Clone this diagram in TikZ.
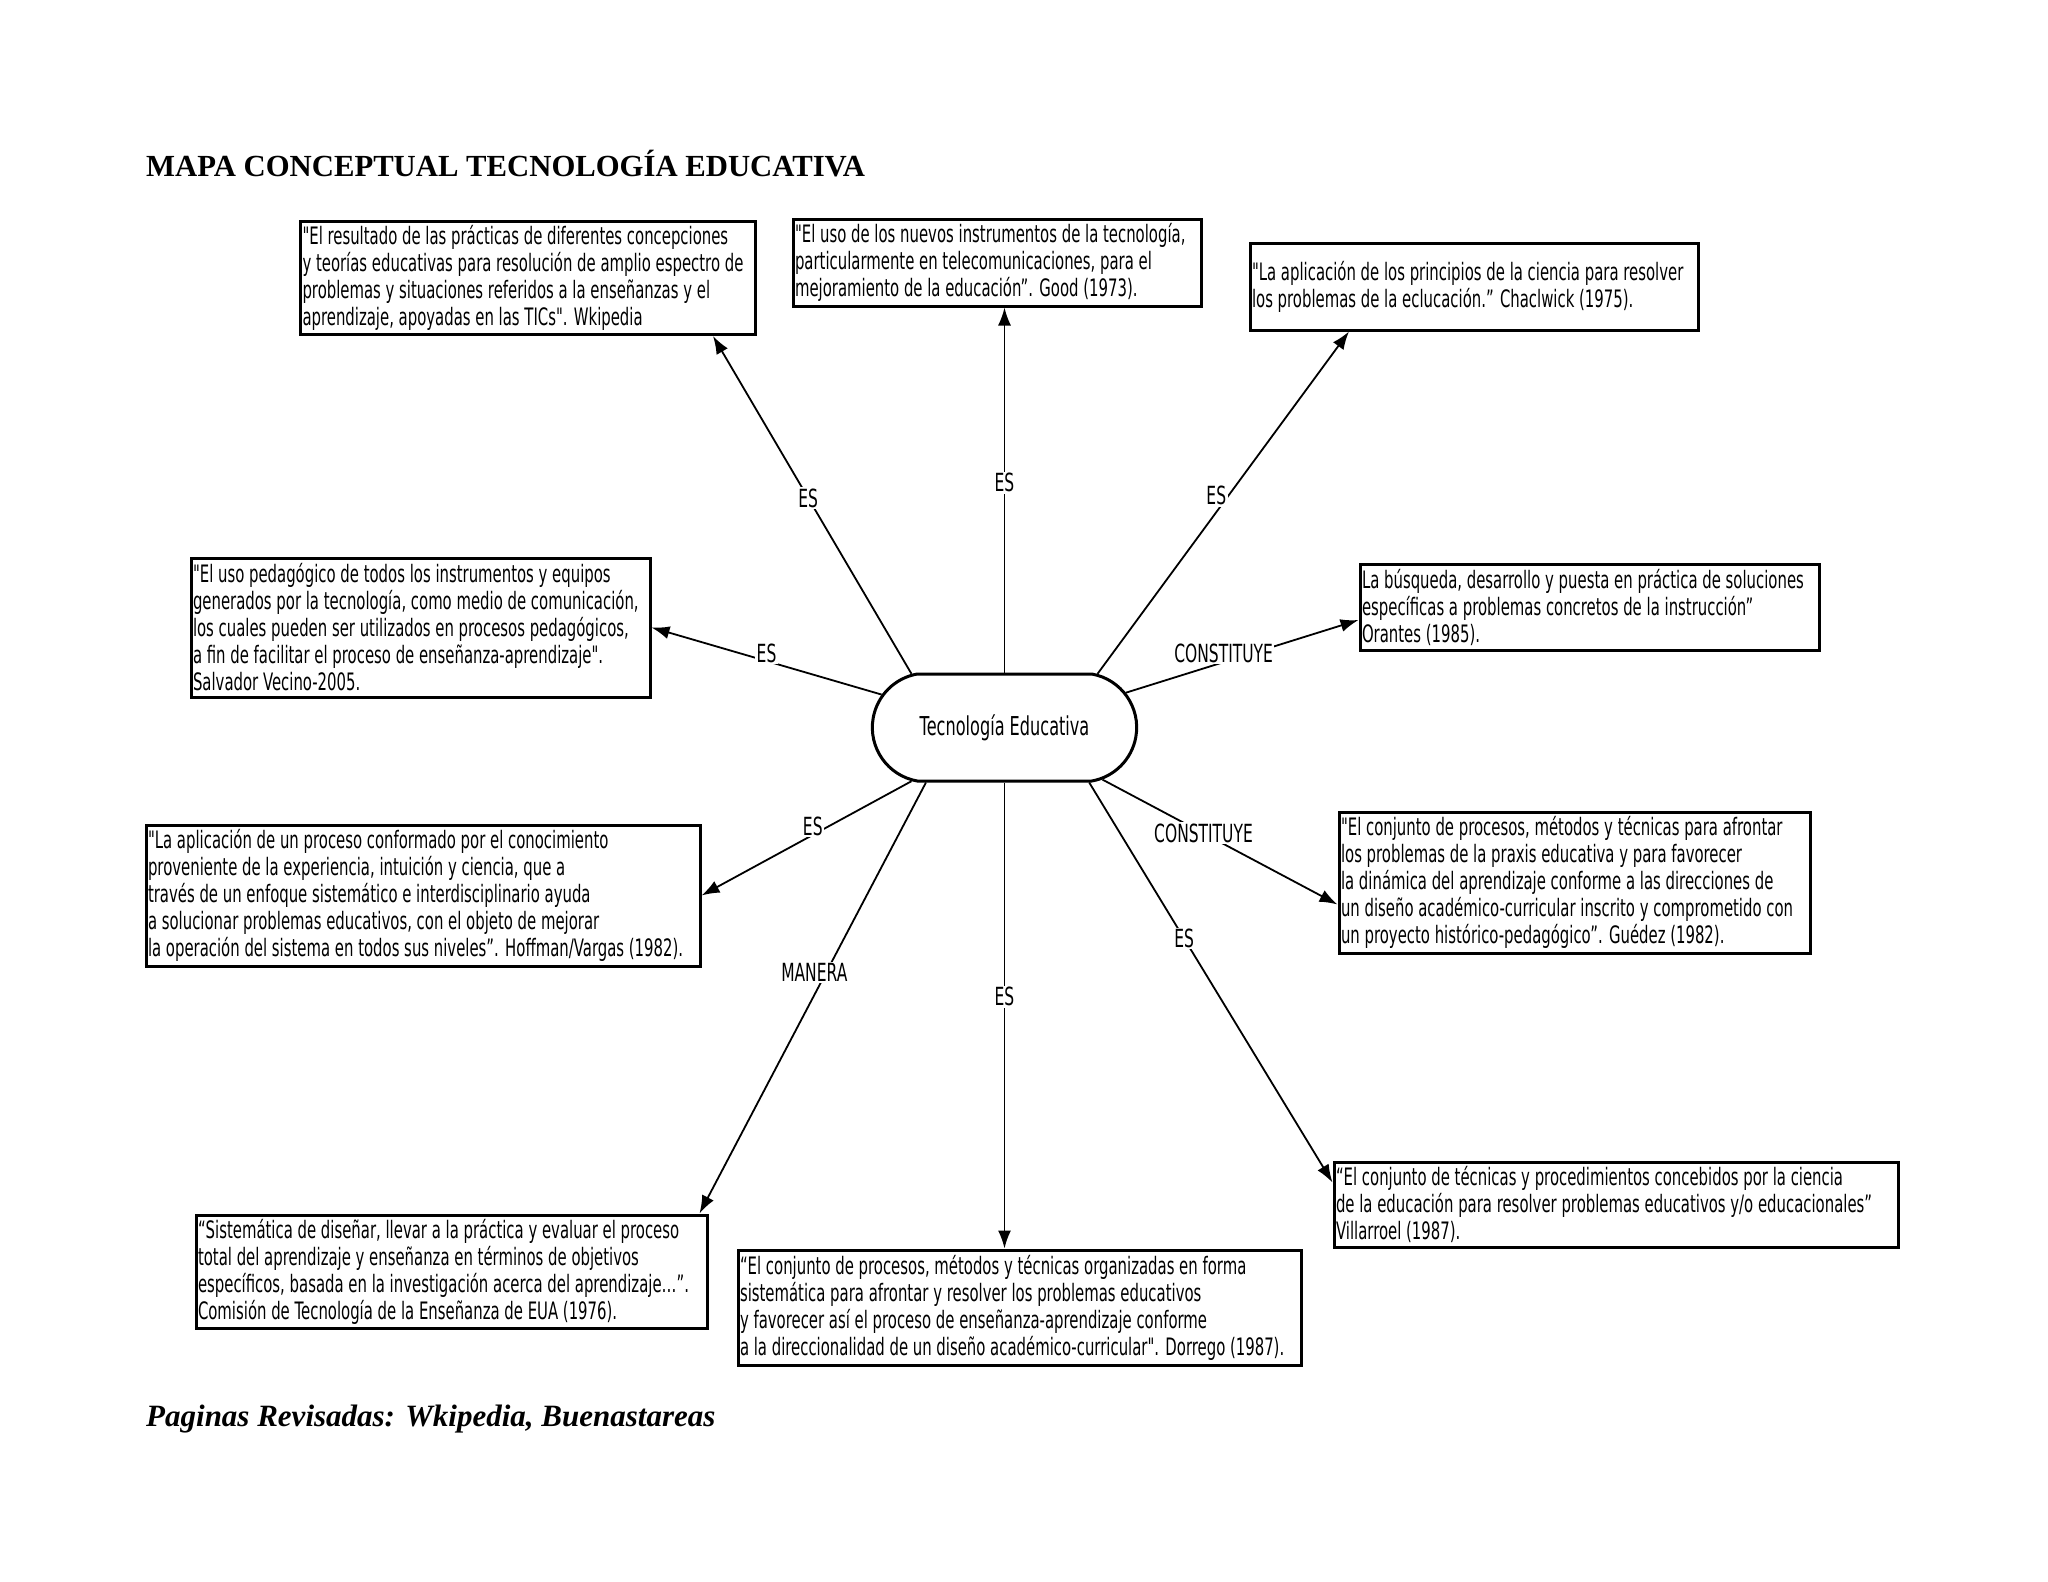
\documentclass[tikz,border=0pt]{standalone}
\usepackage{fontspec}
\setmainfont{Liberation Serif}
\newfontfamily\boxfont[FakeStretch=0.62]{DejaVu Sans}
\usetikzlibrary{shapes.misc,arrows.meta,positioning}

\begin{document}
\begin{tikzpicture}[
  x=1pt, y=-1pt,
  q/.style={draw,line width=3pt,align=flush left,inner xsep=2pt,inner ysep=0pt,
            font=\boxfont\fontsize{24}{27}\selectfont,
            execute at begin node={\hyphenpenalty=10000\exhyphenpenalty=10000}},
  hub/.style={draw,line width=3pt,rounded rectangle,
            rounded rectangle arc length=160,minimum width=271pt,
            minimum height=107pt,font=\boxfont\fontsize{26}{30}\selectfont},
  fl/.style={-{Latex[length=18pt,width=13pt]},line width=1.8pt},
  lb/.style={fill=white,inner sep=1.5pt,
            font=\boxfont\fontsize{25}{28}\selectfont},
  ]
  \useasboundingbox (0,0) rectangle (2048,1582);

  \node[anchor=base west,inner sep=0,font=\bfseries\fontsize{30.7}{36}\selectfont]
    (title) at (146,176) {MAPA CONCEPTUAL TECNOLOGÍA EDUCATIVA};

  \node[hub] (c) at (1004.5,727.5) {Tecnología Educativa};

  \node[q,text width=451pt,minimum height=113pt] (tl) at (528,278)
    {"El resultado de las prácticas de diferentes concepciones\\
     y teorías educativas para resolución de amplio espectro de\\
     problemas y situaciones referidos a la enseñanzas y el\\
     aprendizaje, apoyadas en las TICs". Wkipedia};
  \node[q,text width=404pt,minimum height=87pt] (tc) at (997,262.5)
    {"El uso de los nuevos instrumentos de la tecnología,\\
     particularmente en telecomunicaciones, para el\\
     mejoramiento de la educación”. Good (1973).};
  \node[q,text width=444pt,minimum height=87pt] (tr) at (1474,286.5)
    {"La aplicación de los principios de la ciencia para resolver\\
     los problemas de la eclucación.” Chaclwick (1975).};
  \node[q,text width=455pt,minimum height=139pt] (ml) at (420.5,627.5)
    {"El uso pedagógico de todos los instrumentos y equipos\\
     generados por la tecnología, como medio de comunicación,\\
     los cuales pueden ser utilizados en procesos pedagógicos,\\
     a fin de facilitar el proceso de enseñanza-aprendizaje".\\
     Salvador Vecino-2005.};
  \node[q,text width=455pt,minimum height=86pt] (mr) at (1589.5,607)
    {La búsqueda, desarrollo y puesta en práctica de soluciones\\
     específicas a problemas concretos de la instrucción”\\
     Orantes (1985).};
  \node[q,text width=550pt,minimum height=141pt] (ll) at (423,895.5)
    {"La aplicación de un proceso conformado por el conocimiento\\
     proveniente de la experiencia, intuición y ciencia, que a\\
     través de un enfoque sistemático e interdisciplinario ayuda\\
     a solucionar problemas educativos, con el objeto de mejorar\\
     la operación del sistema en todos sus niveles”. Hoffman/Vargas (1982).};
  \node[q,text width=467pt,minimum height=141pt] (lr) at (1574.5,882.5)
    {"El conjunto de procesos, métodos y técnicas para afrontar\\
     los problemas de la praxis educativa y para favorecer\\
     la dinámica del aprendizaje conforme a las direcciones de\\
     un diseño académico-curricular inscrito y comprometido con\\
     un proyecto histórico-pedagógico”. Guédez (1982).};
  \node[q,text width=507pt,minimum height=113pt] (bl) at (451.5,1271.5)
    {“Sistemática de diseñar, llevar a la práctica y evaluar el proceso\\
     total del aprendizaje y enseñanza en términos de objetivos\\
     específicos, basada en la investigación acerca del aprendizaje…”.\\
     Comisión de Tecnología de la Enseñanza de EUA (1976).};
  \node[q,text width=559pt,minimum height=115pt] (bc) at (1019.5,1307.5)
    {“El conjunto de procesos, métodos y técnicas organizadas en forma\\
     sistemática para afrontar y resolver los problemas educativos\\
     y favorecer así el proceso de enseñanza-aprendizaje conforme\\
     a la direccionalidad de un diseño académico-curricular". Dorrego (1987).};
  \node[q,text width=560pt,minimum height=85pt] (br) at (1616,1204.5)
    {“El conjunto de técnicas y procedimientos concebidos por la ciencia\\
     de la educación para resolver problemas educativos y/o educacionales”\\
     Villarroel (1987).};

  \node[anchor=base west,inner sep=0,
        font=\bfseries\itshape\fontsize{31}{36}\selectfont]
    (pages) at (146,1426) {Paginas Revisadas: Wkipedia, Buenastareas};

  \draw[fl] (c.150) -- node[lb,pos=0.52]{ES} ([xshift=185pt]tl.south);
  \draw[fl] (c.north) -- node[lb,pos=0.52]{ES} (c.north |- tc.south);
  \draw[fl] (c.30) -- node[lb,pos=0.52,xshift=-12pt]{ES} ([xshift=-125pt]tr.south);
  \draw[fl] (c.165) -- node[lb,pos=0.5,yshift=8pt]{ES} (ml.east);
  \draw[fl] (c.16) -- node[lb,pos=0.42,yshift=9pt]{CONSTITUYE} ([yshift=-13pt]mr.west);
  \draw[fl] (c.210) -- node[lb,pos=0.47,yshift=9pt]{ES} (ll.east);
  \draw[fl] (c.215) -- node[lb,pos=0.44,xshift=-12pt]{MANERA} ([xshift=248pt]bl.north);
  \draw[fl] (c.south) -- node[lb,pos=0.46]{ES} (c.south |- bc.north);
  \draw[fl] (c.327) -- node[lb,pos=0.39]{ES} ([yshift=22pt]br.west);
  \draw[fl] (c.332) -- node[lb,pos=0.43]{CONSTITUYE} ([yshift=-22pt]lr.west);
\end{tikzpicture}
\end{document}
